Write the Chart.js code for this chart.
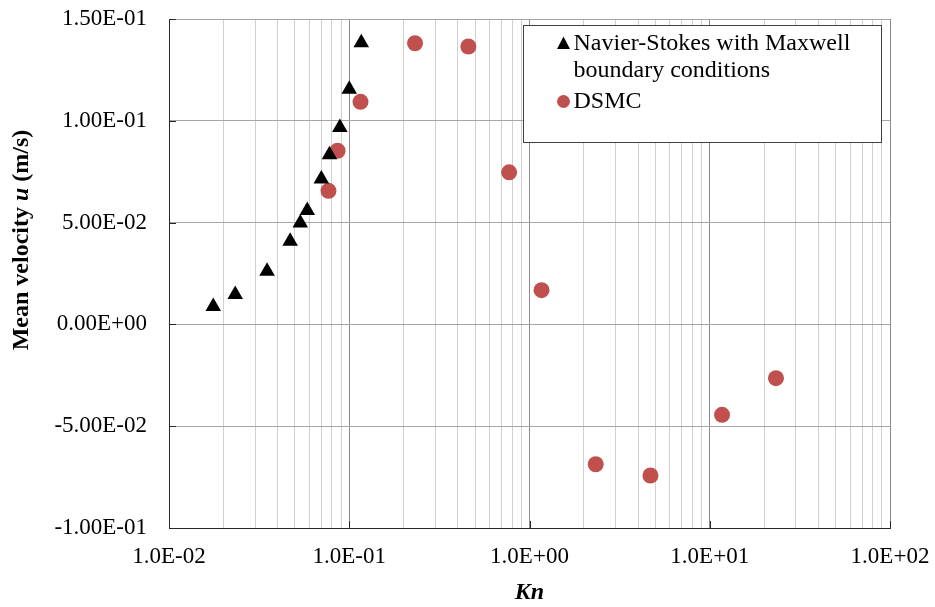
<!DOCTYPE html>
<html>
<head>
  <title>Mean velocity vs Kn</title>
  <meta charset="utf-8">
  <style>
    html, body { margin: 0; padding: 0; background: #fff; }
    #wrap { width: 935px; height: 607px; }
  </style>
</head>
<body>
<script src="https://cdn.jsdelivr.net/npm/chart.js"></script>
<div id="wrap"><canvas id="velChart" width="935" height="607"></canvas></div>
<script>
    // Navier-Stokes (Maxwell BC) points
    const nsKn = [0.0176, 0.0233, 0.035, 0.047, 0.0535, 0.0585, 0.07, 0.0777, 0.0887, 0.1, 0.1166];
    const nsU = [0.0088, 0.0147, 0.0261, 0.0408, 0.0498, 0.0560, 0.0714, 0.0833, 0.0967, 0.1155, 0.1383];

    // DSMC points
    const dsmcKn = [0.0767, 0.0861, 0.1155, 0.2317, 0.458, 0.771, 1.166, 2.33, 4.69, 11.7, 23.3];
    const dsmcU = [0.0656, 0.0853, 0.1093, 0.1381, 0.1365, 0.0747, 0.0168, -0.0687, -0.0742, -0.0444, -0.0264];

    // axis ticks
    const xMajorTicks = [0.01, 0.1, 1, 10, 100];
    const xTickLabels = ['1.0E-02', '1.0E-01', '1.0E+00', '1.0E+01', '1.0E+02'];
    const yTickLabels = ['-1.00E-01', '-5.00E-02', '0.00E+00', '5.00E-02', '1.00E-01', '1.50E-01'];

    const legendLabels = [['Navier-Stokes with Maxwell', 'boundary conditions'], ['DSMC']];
    const serif = "'Liberation Serif', 'Times New Roman', serif";
    const dsmcColor = '#C0504D';

    function toPoints(xs, ys) {
        return xs.map((x, i) => ({ x: x, y: ys[i] }));
    }

    // all grid positions on the log axis: 1..9 per decade
    function logGridValues() {
        const vals = [];
        for (let d = 0; d < xMajorTicks.length - 1; d++) {
            for (let m = 1; m <= 9; m++) vals.push(+(xMajorTicks[d] * m).toPrecision(3));
        }
        vals.push(xMajorTicks[xMajorTicks.length - 1]);
        return vals;
    }

    function isMajor(v) {
        return xMajorTicks.some(t => Math.abs(v - t) / t < 1e-6);
    }

    // y axis title with italic "u", legend box and small inside tick marks
    const extrasPlugin = {
        id: 'extras',
        afterDraw(chart) {
            const ctx = chart.ctx;
            const area = chart.chartArea;
            const xs = chart.scales.x, ys = chart.scales.y;
            ctx.save();
            ctx.strokeStyle = '#262626';
            ctx.lineWidth = 1;
            ys.ticks.forEach(t => {
                const py = Math.round(ys.getPixelForValue(t.value)) + 0.5;
                ctx.beginPath();
                ctx.moveTo(area.left, py);
                ctx.lineTo(area.left + 7, py);
                ctx.stroke();
            });
            xMajorTicks.forEach(v => {
                const px = Math.round(xs.getPixelForValue(v)) + 0.5;
                ctx.beginPath();
                ctx.moveTo(px, area.bottom);
                ctx.lineTo(px, area.bottom - 7);
                ctx.stroke();
            });

            // y title
            const parts = [
                ['Mean velocity ', 'bold 24px ' + serif],
                ['u', 'italic bold 24px ' + serif],
                [' (m/s)', 'bold 24px ' + serif]
            ];
            let total = 0;
            parts.forEach(p => { ctx.font = p[1]; total += ctx.measureText(p[0]).width; });
            ctx.translate(22, 240);
            ctx.rotate(-Math.PI / 2);
            ctx.fillStyle = '#000';
            ctx.textBaseline = 'middle';
            ctx.textAlign = 'left';
            let cx = -total / 2;
            parts.forEach(p => {
                ctx.font = p[1];
                ctx.fillText(p[0], cx, 0);
                cx += ctx.measureText(p[0]).width;
            });
            ctx.restore();

            // legend box
            const bx = area.right - 366.5, by = area.top + 6.5, bw = 358, bh = 117;
            ctx.save();
            ctx.fillStyle = '#fff';
            ctx.fillRect(bx, by, bw, bh);
            ctx.strokeStyle = '#404040';
            ctx.lineWidth = 1;
            ctx.strokeRect(bx, by, bw, bh);
            ctx.font = '24px ' + serif;
            ctx.fillStyle = '#000';
            ctx.textBaseline = 'middle';
            const lineY = [[18, 45], [76]];
            legendLabels.forEach((lines, i) => {
                lines.forEach((txt, j) => ctx.fillText(txt, bx + 50, by + lineY[i][j]));
            });
            // triangle marker
            const mx = bx + 40;
            let my = by + 18;
            ctx.beginPath();
            ctx.moveTo(mx, my - 7);
            ctx.lineTo(mx + 6.5, my + 5.5);
            ctx.lineTo(mx - 6.5, my + 5.5);
            ctx.closePath();
            ctx.fill();
            // circle marker
            my = by + 76;
            ctx.fillStyle = dsmcColor;
            ctx.beginPath();
            ctx.arc(mx, my, 6.5, 0, Math.PI * 2);
            ctx.fill();
            ctx.restore();
        }
    };

    const chart = new Chart(document.getElementById('velChart'), {
        type: 'scatter',
        data: {
            datasets: [
                {
                    label: legendLabels[0].join(' '),
                    data: toPoints(nsKn, nsU),
                    pointStyle: 'triangle',
                    pointRadius: 9,
                    backgroundColor: '#000',
                    borderColor: '#000',
                    borderWidth: 0
                },
                {
                    label: legendLabels[1][0],
                    data: toPoints(dsmcKn, dsmcU),
                    pointStyle: 'circle',
                    pointRadius: 8,
                    backgroundColor: dsmcColor,
                    borderColor: dsmcColor,
                    borderWidth: 0
                }
            ]
        },
        options: {
            responsive: false,
            animation: false,
            layout: { padding: { top: 19, right: 45, left: 0, bottom: 0 } },
            plugins: {
                legend: { display: false },
                tooltip: { enabled: false }
            },
            scales: {
                x: {
                    type: 'logarithmic',
                    min: 0.01,
                    max: 100,
                    afterFit: s => {
                        s.height = 79;
                        s.paddingLeft = 0;
                        s.paddingRight = 0;
                    },
                    afterBuildTicks: s => {
                        s.ticks = logGridValues().map(v => ({ value: v, major: isMajor(v) }));
                    },
                    border: { color: '#262626', width: 1 },
                    grid: {
                        drawTicks: false,
                        color: c => (c.tick && isMajor(c.tick.value)) ? '#8c8c8c' : '#d0d0d0',
                        lineWidth: 1
                    },
                    ticks: {
                        autoSkip: false,
                        maxRotation: 0,
                        padding: 15,
                        color: '#000',
                        font: { family: serif, size: 23 },
                        callback: function (value) {
                            const idx = xMajorTicks.findIndex(t => Math.abs(value - t) / t < 1e-6);
                            return idx >= 0 ? xTickLabels[idx] : '';
                        }
                    },
                    title: {
                        display: true,
                        text: 'Kn',
                        color: '#000',
                        font: { family: serif, size: 24, style: 'italic', weight: 'bold' },
                        padding: { top: 0, bottom: 0 }
                    }
                },
                y: {
                    min: -0.1,
                    max: 0.15,
                    afterFit: s => {
                        s.width = 169;
                        s.paddingTop = 0;
                        s.paddingBottom = 0;
                    },
                    border: { color: '#262626', width: 1 },
                    grid: { drawTicks: false, color: '#a6a6a6', lineWidth: 1 },
                    ticks: {
                        stepSize: 0.05,
                        padding: 22,
                        color: '#000',
                        font: { family: serif, size: 23 },
                        callback: function (value, index) { return yTickLabels[index]; }
                    }
                }
            }
        },
        plugins: [extrasPlugin]
    });
</script>
</body>
</html>
